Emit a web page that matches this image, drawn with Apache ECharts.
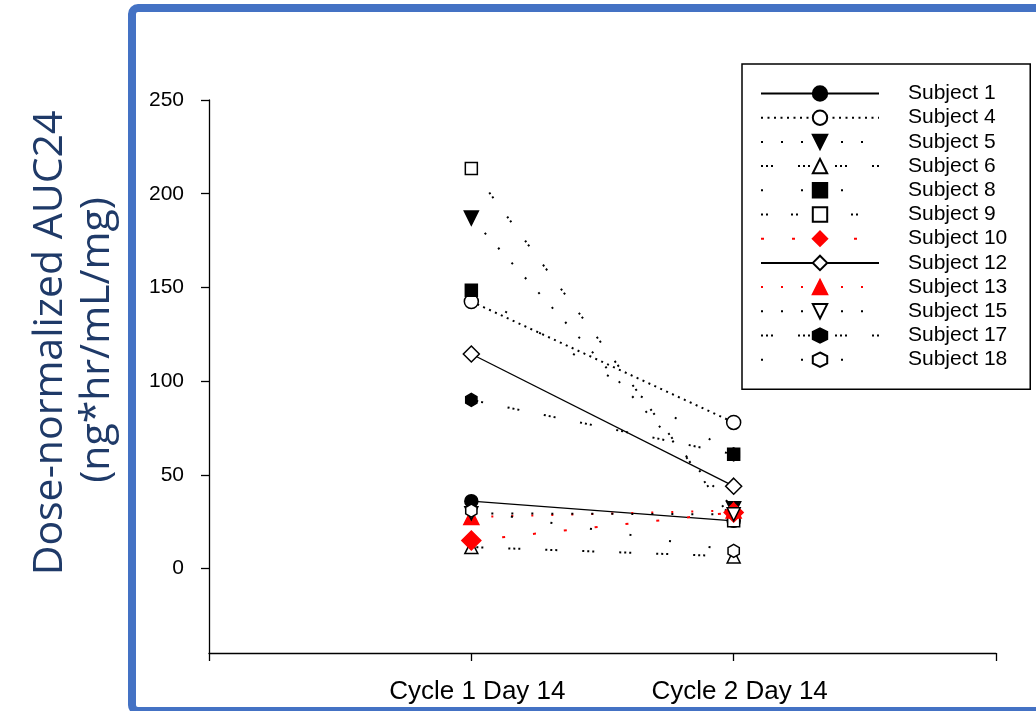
<!DOCTYPE html>
<html>
<head>
<meta charset="utf-8">
<script src="https://cdn.jsdelivr.net/npm/echarts@6/dist/echarts.min.js"></script>
<style>
  html, body { margin: 0; padding: 0; background: #ffffff; }
  #chart { width: 1036px; height: 711px; }
</style>
</head>
<body>
<div id="chart"></div>
<script>
// Visits on the x axis (placed at x = 1 and x = 2)
const categories = ['Cycle 1 Day 14', 'Cycle 2 Day 14'];

// Dose-normalized AUC24 per subject: [Cycle 1 Day 14, Cycle 2 Day 14]
const subject1  = [36, 25.5];
const subject4  = [142.5, 78];
const subject5  = [187, 32];
const subject6  = [11.5, 6.5];
const subject8  = [148.5, 61];
const subject9  = [213.5, 25.5];
const subject10 = [15, 30];
const subject12 = [114.5, 44];
const subject13 = [27.5, 31];
const subject15 = [29.5, 29];
const subject17 = [90, 61];
const subject18 = [31, 9.5];

const subjectNames = ['Subject 1', 'Subject 4', 'Subject 5', 'Subject 6', 'Subject 8', 'Subject 9',
  'Subject 10', 'Subject 12', 'Subject 13', 'Subject 15', 'Subject 17', 'Subject 18'];
const subjectValues = [subject1, subject4, subject5, subject6, subject8, subject9,
  subject10, subject12, subject13, subject15, subject17, subject18];

// Y axis tick values
const yTicks = [0, 50, 100, 150, 200, 250];

// Marker and line looks for each subject
const HEX = 'path://M0,-10 L8.66,-5 L8.66,5 L0,10 L-8.66,5 L-8.66,-5 Z';
const dotted = [2, 4.5];
const sparse = [2, 18];
const triple = [2, 3, 2, 3, 2, 25];
const single = [2, 38];
const pair = [2, 3, 2, 23];
const styles = {
  'Subject 1':  { symbol: 'circle',   fill: '#000', stroke: '#000', color: '#000', dash: 'solid', size: 13 },
  'Subject 4':  { symbol: 'circle',   fill: '#fff', stroke: '#000', color: '#000', dash: dotted,  size: 14 },
  'Subject 5':  { symbol: 'triangle', fill: '#000', stroke: '#000', color: '#000', dash: sparse,  size: 14, rotate: 180 },
  'Subject 6':  { symbol: 'triangle', fill: '#fff', stroke: '#000', color: '#000', dash: triple,  size: 13 },
  'Subject 8':  { symbol: 'rect',     fill: '#000', stroke: '#000', color: '#000', dash: single,  size: 12 },
  'Subject 9':  { symbol: 'rect',     fill: '#fff', stroke: '#000', color: '#000', dash: pair,    size: 12 },
  'Subject 10': { symbol: 'diamond',  fill: '#ff0000', stroke: '#ff0000', color: '#ff0000', dash: [3, 28], size: 19 },
  'Subject 12': { symbol: 'diamond',  fill: '#fff', stroke: '#000', color: '#000', dash: 'solid', size: 16 },
  'Subject 13': { symbol: 'triangle', fill: '#ff0000', stroke: '#ff0000', color: '#ff0000', dash: sparse, size: 15 },
  'Subject 15': { symbol: 'triangle', fill: '#fff', stroke: '#000', color: '#000', dash: sparse,  size: 13, rotate: 180 },
  'Subject 17': { symbol: HEX,        fill: '#000', stroke: '#000', color: '#000', dash: triple,  size: 13 },
  'Subject 18': { symbol: HEX,        fill: '#fff', stroke: '#000', color: '#000', dash: single,  size: 13 }
};

const series = subjectNames.map(function (name, i) {
  const s = styles[name];
  return {
    name: name,
    type: 'line',
    data: subjectValues[i].map(function (v, k) { return [k + 1, v]; }),
    symbol: s.symbol,
    symbolSize: s.size,
    symbolRotate: s.rotate || 0,
    symbolKeepAspect: true,
    showAllSymbol: true,
    animation: false,
    lineStyle: { color: s.color, width: s.dash === 'solid' ? 1.3 : 2, type: s.dash },
    itemStyle: { color: s.fill, borderColor: s.stroke, borderWidth: 1.5 },
    emphasis: { disabled: true }
  };
});

const chart = echarts.init(document.getElementById('chart'), null, { renderer: 'canvas' });
const FONT = 'Liberation Sans, Arial, sans-serif';
chart.setOption({
  backgroundColor: '#ffffff',
  animation: false,
  grid: { left: 209, right: 40, top: 100, bottom: 58, containLabel: false },
  xAxis: {
    type: 'value', min: 0, max: 3, interval: 1,
    splitLine: { show: false },
    axisLine: { onZero: false, lineStyle: { color: '#000', width: 1.3 } },
    axisTick: { inside: false, length: 8, lineStyle: { color: '#000', width: 1.3 } },
    axisLabel: {
      color: '#000', fontSize: 26, fontFamily: FONT, margin: 26, padding: [0, 0, 0, 12],
      formatter: function (v) { return (v >= 1 && v <= categories.length) ? categories[v - 1] : ''; }
    }
  },
  yAxis: {
    type: 'value', min: -45, max: 250,
    splitLine: { show: false },
    axisLine: { onZero: false, lineStyle: { color: '#000', width: 1.3 } },
    axisTick: { inside: false, length: 8, customValues: yTicks, lineStyle: { color: '#000', width: 1.3 } },
    axisLabel: { color: '#000', fontSize: 21, fontFamily: FONT, margin: 25, customValues: yTicks }
  },
  legend: {
    orient: 'vertical',
    left: 742, top: 64,
    padding: [19, 23, 19, 18],
    itemWidth: 118, itemHeight: 18, itemGap: 3.2,
    borderColor: '#000', borderWidth: 1.5,
    backgroundColor: '#fff',
    selectedMode: false,
    textStyle: { color: '#000', fontSize: 21, fontFamily: FONT, padding: [0, 0, 0, 24], lineHeight: 17 },
    data: subjectNames
  },
  graphic: [
    {
      type: 'rect', silent: true,
      shape: { x: 132, y: 8, width: 1100, height: 703, r: 6 },
      style: { fill: 'none', stroke: '#4472C4', lineWidth: 8 }
    },
    {
      type: 'text', silent: true, x: 50, y: 343, rotation: Math.PI / 2,
      style: { text: 'Dose-normalized AUC24', fill: '#1F3A68', font: '41px "Open Sans", sans-serif',
        align: 'center', verticalAlign: 'middle' }
    },
    {
      type: 'text', silent: true, x: 97, y: 340, rotation: Math.PI / 2,
      style: { text: '(ng*hr/mL/mg)', fill: '#1F3A68', font: '41px "Open Sans", sans-serif',
        align: 'center', verticalAlign: 'middle' }
    }
  ],
  series: series
});
</script>
</body>
</html>
